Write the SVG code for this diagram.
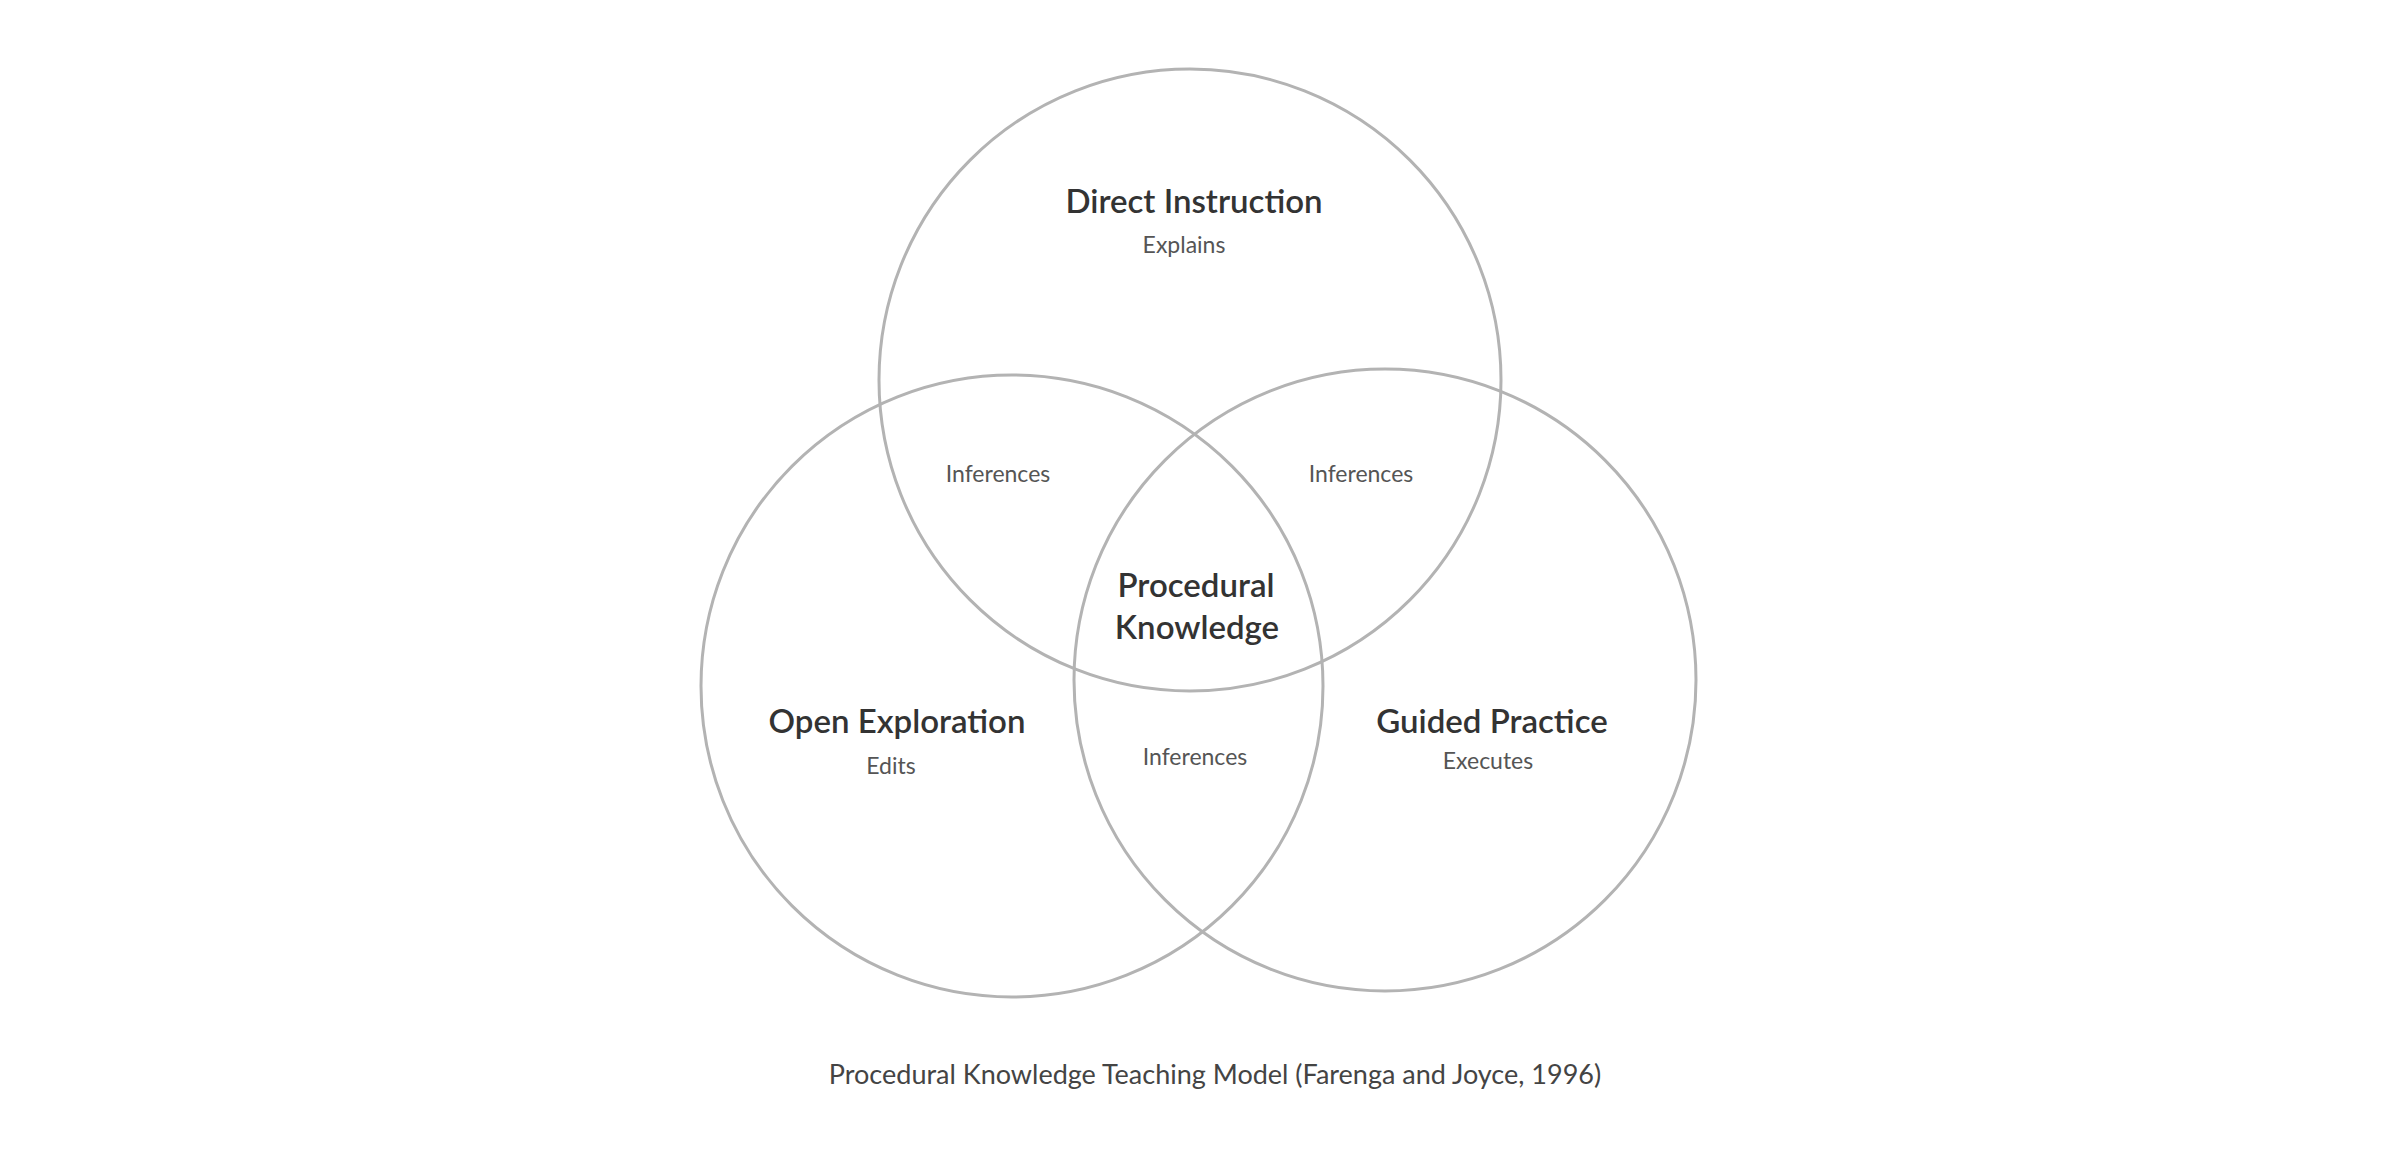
<svg xmlns="http://www.w3.org/2000/svg" width="2400" height="1166" viewBox="0 0 2400 1166">
<style>
.c{fill:none;stroke:#b3b3b3;stroke-width:3}
text{font-family:Lato,"Noto Sans",sans-serif;fill:#333;text-anchor:middle;dominant-baseline:middle}
.t{font-size:33px;font-weight:600}
.s{font-size:23px;fill:#555}
.cap{font-size:27px;fill:#444}
</style>
<rect x="0" y="0" width="2400" height="1166" rx="24" fill="#fff"/>
<g id="direct-instruction"><circle class="c" cx="1190" cy="380" r="311"/><text class="t" x="1194" y="205">Direct Instruction</text><text class="s" x="1184" y="247">Explains</text></g>
<g id="open-exploration"><circle class="c" cx="1012" cy="686" r="311"/><text class="t" x="897" y="725">Open Exploration</text><text class="s" x="891" y="768">Edits</text></g>
<g id="guided-practice"><circle class="c" cx="1385" cy="680" r="311"/><text class="t" x="1492" y="725">Guided Practice</text><text class="s" x="1488" y="763">Executes</text></g>
<g id="inf1"><text class="s" x="998" y="476">Inferences</text></g>
<g id="inf2"><text class="s" x="1361" y="476">Inferences</text></g>
<g id="inf3"><text class="s" x="1195" y="759">Inferences</text></g>
<g id="procedural-knowledge"><text class="t" x="1196" y="589">Procedural</text><text class="t" x="1197" y="631">Knowledge</text></g>
<g id="connectors"></g>
<text class="cap" x="1215" y="1077">Procedural Knowledge Teaching Model (Farenga and Joyce, 1996)</text>
</svg>
